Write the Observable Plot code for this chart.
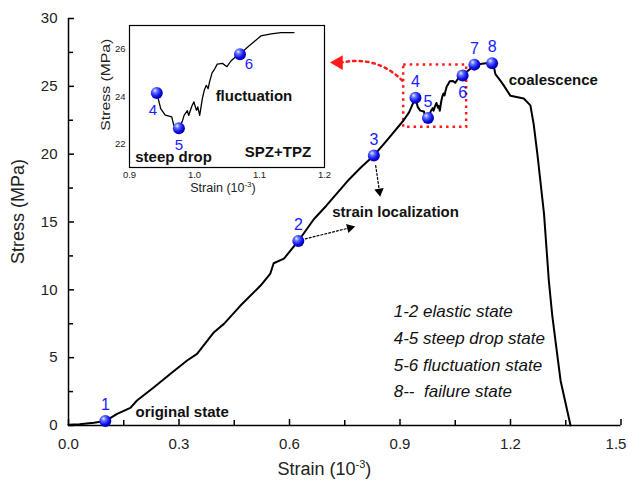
<!DOCTYPE html>
<html>
<head>
<meta charset="utf-8">
<script src="https://cdn.jsdelivr.net/npm/d3@7"></script>
<script src="https://cdn.jsdelivr.net/npm/@observablehq/plot@0.6"></script>
<style>
  body { margin: 0; background: #fff; }
  #chart { position: relative; width: 628px; height: 480px; }
</style>
</head>
<body>
<div id="chart"></div>
<script>
// ---- data ----
const strain = [0, 0.03, 0.069, 0.1, 0.132, 0.168, 0.186, 0.232, 0.277, 0.322, 0.349, 0.395, 0.422, 0.467, 0.521, 0.548, 0.557, 0.585, 0.624, 0.666, 0.70, 0.757, 0.793, 0.829, 0.861, 0.91, 0.925, 0.936, 0.942, 0.948, 0.955, 0.965, 0.968, 0.976, 0.981, 0.984, 0.989, 0.991, 0.996, 0.999, 1.003, 1.005, 1.008, 1.012, 1.015, 1.018, 1.021, 1.023, 1.027, 1.031, 1.035, 1.043, 1.05, 1.056, 1.062, 1.07, 1.081, 1.092, 1.102, 1.118, 1.133, 1.153, 1.159, 1.173, 1.182, 1.20, 1.236, 1.254, 1.263, 1.273, 1.291, 1.304, 1.313, 1.322, 1.336, 1.363];
const stress = [0.05, 0.1, 0.2, 0.33, 0.86, 1.3, 1.84, 2.82, 3.81, 4.79, 5.28, 6.88, 7.49, 8.84, 10.3, 11.2, 11.96, 12.3, 13.6, 15.2, 16.2, 18.0, 19.0, 19.9, 20.9, 22.5, 23.1, 23.8, 24.15, 23.49, 23.21, 23.14, 22.79, 22.66, 22.93, 23.2, 23.4, 23.2, 23.6, 23.77, 23.42, 23.56, 23.2, 23.9, 24.26, 24.47, 24.33, 24.6, 25.0, 25.16, 25.37, 25.4, 25.26, 25.5, 25.65, 25.79, 26.07, 26.32, 26.56, 26.65, 26.7, 26.7, 25.9, 25.4, 25.05, 24.3, 24.1, 23.6, 22.2, 20.0, 15.6, 10.7, 8.2, 6.26, 3.3, 0];

const pointLabels = ["1", "2", "3", "4", "5", "6", "7", "8"];
const pointStrain = [0.1, 0.624, 0.829, 0.942, 0.976, 1.07, 1.102, 1.15];
const pointStress = [0.33, 13.6, 19.9, 24.15, 22.66, 25.79, 26.6, 26.7];

const xTicks = [0, 0.3, 0.6, 0.9, 1.2, 1.5];
const xMinorTicks = [0.15, 0.45, 0.75, 1.05, 1.35];
const yTicks = [0, 5, 10, 15, 20, 25, 30];
const yMinorTicks = [2.5, 7.5, 12.5, 17.5, 22.5, 27.5];

const insetXTicks = [0.9, 1.0, 1.1, 1.2];
const insetYTicks = [22, 24, 26];
const insetStrainRange = [0.94, 1.155];
const insetPointLabels = ["4", "5", "6"];

const stateNotes = ["1-2 elastic state", "4-5 steep drop state", "5-6 fluctuation state", "8--\u00a0 failure state"];
const xTitle = "Strain (10-3)";
const yTitle = "Stress (MPa)";

// ---- tables built from arrays ----
const curve = strain.map((x, i) => ({x, y: stress[i]}));
const pts = pointLabels.map((label, i) => ({label, x: pointStrain[i], y: pointStress[i]}));
const insetCurve = curve.filter(d => d.x >= insetStrainRange[0] && d.x <= insetStrainRange[1]);
const insetPts = pts.filter(d => insetPointLabels.includes(d.label));

const FONT = "'Liberation Sans', Arial, Helvetica, sans-serif";
const BLUE = "#1a1aff";

// main layout
const W = 628, H = 480, ML = 68, MR = 7.5, MT = 18, MB = 55;
const X_DOMAIN = [0, 1.5], Y_DOMAIN = [0, 30];
// inward tick lengths, expressed in each scale's units (≈6px and ≈5px)
const pxX = (X_DOMAIN[1] - X_DOMAIN[0]) / (W - ML - MR);
const pxY = (Y_DOMAIN[1] - Y_DOMAIN[0]) / (H - MT - MB);

const main = Plot.plot({
  width: W, height: H,
  marginLeft: ML, marginRight: MR, marginTop: MT, marginBottom: MB,
  x: {domain: X_DOMAIN, axis: null},
  y: {domain: Y_DOMAIN, axis: null},
  style: {fontFamily: FONT, background: "white", overflow: "visible"},
  marks: [
    // inward ticks
    Plot.ruleX(xTicks, {x: d => d, y1: 0, y2: 6 * pxY, stroke: "black", strokeWidth: 1.5}),
    Plot.ruleX(xMinorTicks, {x: d => d, y1: 0, y2: 5 * pxY, stroke: "black", strokeWidth: 1.5}),
    Plot.ruleY(yTicks, {y: d => d, x1: 0, x2: 6 * pxX, stroke: "black", strokeWidth: 1.5}),
    Plot.ruleY(yMinorTicks, {y: d => d, x1: 0, x2: 5 * pxX, stroke: "black", strokeWidth: 1.5}),
    // axes lines
    Plot.ruleY([0], {stroke: "black", strokeWidth: 1.5}),
    Plot.ruleX([0], {stroke: "black", strokeWidth: 1.5}),
    // tick labels
    Plot.text(xTicks.slice(0, -1), {x: d => d, y: 0, dy: 13, lineAnchor: "top", text: d => d.toFixed(1), fontSize: 15, fill: "#222"}),
    Plot.text(xTicks.slice(-1), {x: d => d, y: 0, dx: -5, dy: 13, lineAnchor: "top", text: d => d.toFixed(1), fontSize: 15, fill: "#222"}),
    Plot.text(yTicks, {x: 0, y: d => d, dx: -11, textAnchor: "end", text: d => String(d), fontSize: 15, fill: "#222"}),
    // axis titles
    Plot.text([xTitle], {x: 0.5675, y: -3.26, text: d => d, textAnchor: "start", fontSize: 18, fill: "#222"}),
    Plot.text([yTitle], {x: -0.136, y: 15.77, text: d => d, rotate: -90, fontSize: 18, fill: "#222"}),
    // red dotted rectangle
    Plot.rect([0], {x1: 0.91, x2: 1.081, y1: 21.98, y2: 26.58, fill: "none", stroke: "#ff1a1a", strokeWidth: 2.5, strokeDasharray: "2.5,4"}),
    // red dotted curved arrow to inset
    Plot.arrow([0], {x1: 0.906, y1: 25.42, x2: 0.742, y2: 26.75, bend: -30, headLength: 0, stroke: "#ff1a1a", strokeWidth: 2.5, strokeDasharray: "2.5,4"}),
    Plot.dot([0], {x: 0.733, y: 26.75, symbol: "triangle", rotate: -90, r: 5.5, fill: "#ff1a1a", stroke: "none"}),
    // black dotted arrows
    Plot.arrow([0], {x1: 0.643, y1: 13.76, x2: 0.764, y2: 14.57, headLength: 0, stroke: "black", strokeWidth: 1.2, strokeDasharray: "2,2"}),
    Plot.dot([0], {x: 0.764, y: 14.57, symbol: "triangle", rotate: 76, r: 3.5, fill: "black", stroke: "none"}),
    Plot.arrow([0], {x1: 0.834, y1: 19.16, x2: 0.844, y2: 17.3, headLength: 0, stroke: "black", strokeWidth: 1.2, strokeDasharray: "2,2"}),
    Plot.dot([0], {x: 0.844, y: 17.25, symbol: "triangle", rotate: 172, r: 3.5, fill: "black", stroke: "none"}),
    // curve
    Plot.line(curve, {x: "x", y: "y", stroke: "black", strokeWidth: 2, curve: "linear"}),
    // points
    Plot.dot(pts, {x: "x", y: "y", r: 6, fill: "url(#ball)", stroke: "none"}),
    Plot.text(pts.filter(d => d.label !== "6"), {x: "x", y: "y", text: "label", dy: -16, fontSize: 16, fill: BLUE}),
    Plot.text(pts.filter(d => d.label === "6"), {x: "x", y: "y", text: "label", dy: 17, fontSize: 16, fill: BLUE}),
    // annotations
    Plot.text(["original state"], {x: 0.182, y: 0.97, text: d => d, textAnchor: "start", fontWeight: "bold", fontSize: 15, fill: "#111"}),
    Plot.text(["strain localization"], {x: 0.716, y: 15.7, text: d => d, textAnchor: "start", fontWeight: "bold", fontSize: 15, fill: "#111"}),
    Plot.text(["coalescence"], {x: 1.195, y: 25.48, text: d => d, textAnchor: "start", fontWeight: "bold", fontSize: 15, fill: "#111"}),
    Plot.text(stateNotes, {x: 0.883, y: (d, i) => 8.38 - i * 1.965, text: d => d, textAnchor: "start", fontStyle: "italic", fontSize: 17, fill: "#111"})
  ]
});

// gradient for sphere markers
const defs = d3.select(main).insert("defs", ":first-child");
const grad = defs.append("radialGradient").attr("id", "ball").attr("cx", "38%").attr("cy", "35%").attr("r", "65%").attr("fx", "35%").attr("fy", "30%");
grad.append("stop").attr("offset", "0%").attr("stop-color", "#e8ecff");
grad.append("stop").attr("offset", "30%").attr("stop-color", "#6070ff");
grad.append("stop").attr("offset", "70%").attr("stop-color", "#1010f0");
grad.append("stop").attr("offset", "100%").attr("stop-color", "#0000a0");

function superscriptTitle(svg, size, shift) {
  d3.select(svg).selectAll("text").filter(function() { return this.textContent === xTitle; })
    .each(function() {
      const t = d3.select(this);
      t.text("");
      t.append("tspan").text("Strain (10");
      t.append("tspan").attr("dy", -shift).attr("font-size", size).text("-3");
      t.append("tspan").attr("dy", shift).text(")");
    });
}
superscriptTitle(main, 11, 7);

// inset layout
const IW = 245, IH = 182, IML = 40, IMR = 10, IMT = 5, IMB = 35;

const inset = Plot.plot({
  width: IW, height: IH,
  marginLeft: IML, marginRight: IMR, marginTop: IMT, marginBottom: IMB,
  x: {domain: [0.9, 1.2]},
  y: {domain: [21, 27]},
  style: {fontFamily: FONT, background: "transparent", overflow: "visible"},
  marks: [
    Plot.frame({stroke: "black", strokeWidth: 1.2}),
    Plot.axisX({ticks: insetXTicks, tickSize: 0, tickPadding: 4, tickFormat: d => d.toFixed(1), fontSize: 9.5, label: null, fill: "#222"}),
    Plot.axisY({ticks: insetYTicks, tickSize: 0, tickPadding: 4, tickFormat: d => String(d), fontSize: 9.5, label: null, fill: "#222"}),
    Plot.text([xTitle], {frameAnchor: "bottom", dx: -4, dy: 24, text: d => d, fontSize: 12.5, fill: "#222"}),
    Plot.text([yTitle], {x: 0.8644, y: 24.5, rotate: -90, text: d => d, fontSize: 12.5, fill: "#222"}),
    Plot.line(insetCurve, {x: "x", y: "y", stroke: "black", strokeWidth: 1.3}),
    Plot.dot(insetPts, {x: "x", y: "y", r: 6, fill: "url(#ball)", stroke: "none"}),
    Plot.text(insetPts.filter(d => d.label === "4"), {x: "x", y: "y", text: "label", dx: -4, dy: 17, fontSize: 15, fill: BLUE}),
    Plot.text(insetPts.filter(d => d.label === "5"), {x: "x", y: "y", text: "label", dy: 17, fontSize: 15, fill: BLUE}),
    Plot.text(insetPts.filter(d => d.label === "6"), {x: "x", y: "y", text: "label", dx: 9, dy: 10, fontSize: 15, fill: BLUE}),
    Plot.text(["fluctuation"], {x: 1.0325, y: 24.0, text: d => d, textAnchor: "start", fontWeight: "bold", fontSize: 15, fill: "#111"}),
    Plot.text(["steep drop"], {x: 0.9088, y: 21.43, text: d => d, textAnchor: "start", fontWeight: "bold", fontSize: 15, fill: "#111"}),
    Plot.text(["SPZ+TPZ"], {x: 1.0774, y: 21.64, text: d => d, textAnchor: "start", fontWeight: "bold", fontSize: 15, fill: "#111"})
  ]
});
superscriptTitle(inset, 8, 5);
// the inset's y title is stretched lengthwise in the reference
d3.select(inset).selectAll("text").filter(function() { return this.textContent === yTitle; })
  .attr("textLength", 92).attr("lengthAdjust", "spacingAndGlyphs");

inset.style.position = "absolute";
inset.style.left = "89px";
inset.style.top = "20px";

const chart = document.getElementById("chart");
chart.appendChild(main);
chart.appendChild(inset);
</script>
</body>
</html>
